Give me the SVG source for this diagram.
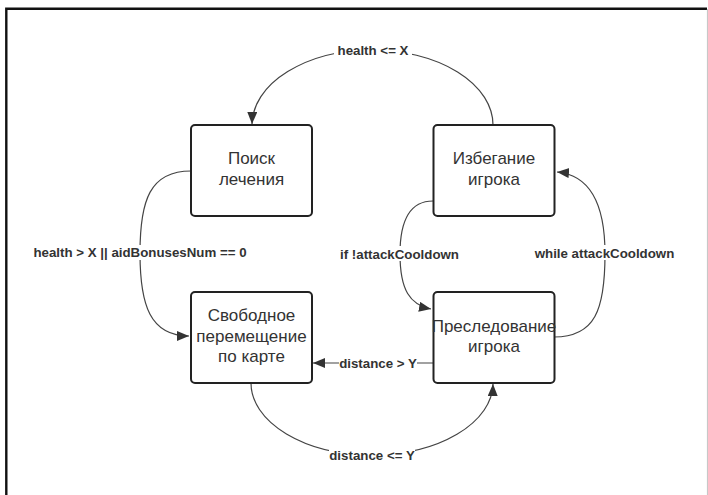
<svg xmlns="http://www.w3.org/2000/svg" width="708" height="495" viewBox="0 0 708 495">
<style>
.box{fill:#fff;stroke:#222;stroke-width:2}
.nt{font-family:"Liberation Sans",Arial,sans-serif;font-size:17px;fill:#333;text-anchor:middle}
.lbl{font-family:"Liberation Sans",Arial,sans-serif;font-size:13.3px;font-weight:bold;fill:#333;text-anchor:middle}
.edge{fill:none;stroke:#444;stroke-width:1.2}
.bg{fill:#fff}
</style>
<defs>
<marker id="arr" markerUnits="userSpaceOnUse" markerWidth="14" markerHeight="12" refX="12" refY="5" orient="auto">
<path d="M0,0 L12,5 L0,10 Z" fill="#333"/>
</marker>
</defs>
<rect width="708" height="495" fill="#fff"/>
<path d="M6.3,495 V8.8 H707" fill="none" stroke="#111" stroke-width="2.4"/>
<line x1="707.5" y1="9" x2="707.5" y2="495" stroke="#c8c8c8" stroke-width="1.2"/>
<g id="connectors">
<g id="e1">
<path class="edge" d="M493,125 A121,75 0 0 0 372,50 A120,75 0 0 0 252,124" marker-end="url(#arr)"/>
<rect class="bg" x="334" y="43" width="78" height="15"/>
<text class="lbl" x="373" y="55">health &lt;= X</text>
</g>
<g id="e2">
<path class="edge" d="M191,171 C150,171 140,200 140,253 C140,305 150,336 189,336" marker-end="url(#arr)"/>
<rect class="bg" x="31" y="245" width="219" height="15"/>
<text class="lbl" x="140" y="257">health &gt; X || aidBonusesNum == 0</text>
</g>
<g id="e3">
<path class="edge" d="M433,201 C410,201 400,220 400,254 C400,290 410,305 431,309" marker-end="url(#arr)"/>
<rect class="bg" x="338" y="246" width="123" height="15"/>
<text class="lbl" x="399.5" y="259">if !attackCooldown</text>
</g>
<g id="e4">
<path class="edge" d="M554,337 C595,337 605,310 605,254 C605,205 590,175 557,172" marker-end="url(#arr)"/>
<rect class="bg" x="532" y="245" width="145" height="15"/>
<text class="lbl" x="604.5" y="258">while attackCooldown</text>
</g>
<g id="e5">
<path class="edge" d="M433,363 H313" marker-end="url(#arr)"/>
<rect class="bg" x="339" y="355" width="78" height="15"/>
<text class="lbl" x="378" y="367.5">distance &gt; Y</text>
</g>
<g id="e6">
<path class="edge" d="M251,383 A121,72 0 0 0 372,455 A121,72 0 0 0 493,384" marker-end="url(#arr)"/>
<rect class="bg" x="329" y="447" width="86" height="15"/>
<text class="lbl" x="372" y="460">distance &lt;= Y</text>
</g>
</g>
<g id="poisk">
<rect class="box" x="191" y="125" width="121" height="91" rx="4"/>
<text class="nt" x="251.5" y="164">Поиск</text>
<text class="nt" x="251.5" y="185">лечения</text>
</g>
<g id="izbeganie">
<rect class="box" x="433.5" y="125" width="121" height="91" rx="4"/>
<text class="nt" x="494" y="164">Избегание</text>
<text class="nt" x="494" y="185">игрока</text>
</g>
<g id="svobodnoe">
<rect class="box" x="191" y="292" width="121" height="91" rx="4"/>
<text class="nt" x="251.5" y="321">Свободное</text>
<text class="nt" x="251.5" y="342">перемещение</text>
<text class="nt" x="251.5" y="362">по карте</text>
</g>
<g id="presledovanie">
<rect class="box" x="433.5" y="292" width="121" height="91" rx="4"/>
<text class="nt" x="494" y="332">Преследование</text>
<text class="nt" x="494" y="352">игрока</text>
</g>
</svg>
